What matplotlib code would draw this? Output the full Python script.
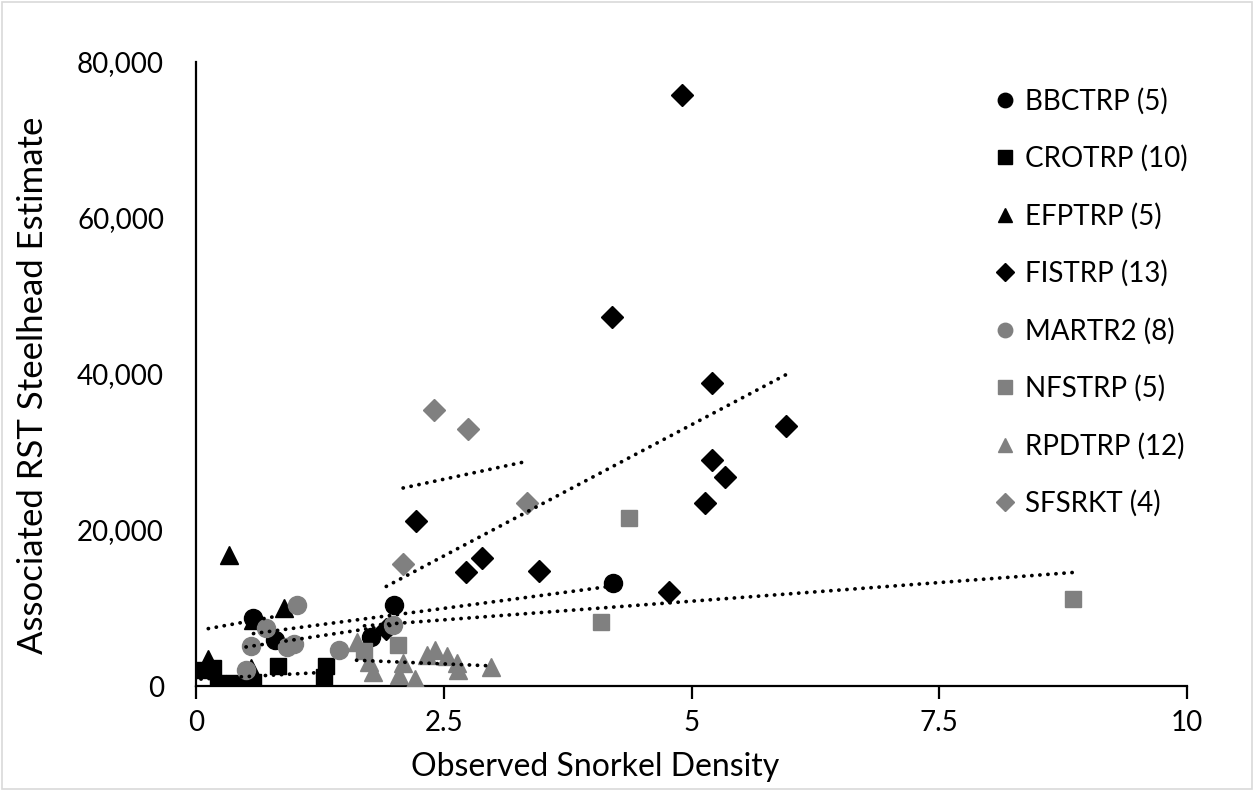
import numpy as np
import matplotlib
matplotlib.use("Agg")
import matplotlib.pyplot as plt
from matplotlib.ticker import FuncFormatter, FixedLocator
from matplotlib.patches import Rectangle

plt.rcParams['font.family'] = ['Lato', 'DejaVu Sans']

# ---- data ----
series_names = ["BBCTRP (5)", "CROTRP (10)", "EFPTRP (5)", "FISTRP (13)",
                "MARTR2 (8)", "NFSTRP (5)", "RPDTRP (12)", "SFSRKT (4)"]

bbctrp_x = [0.58, 0.80, 1.77, 2.00, 4.21]
bbctrp_y = [8700, 5900, 6300, 10400, 13200]

crotrp_x = [0.05, 0.17, 0.22, 0.30, 0.38, 0.45, 0.58, 0.83, 1.29, 1.31]
crotrp_y = [2000, 2300, 400, 300, 400, 300, 500, 2600, 1100, 2600]

efptrp_x = [0.124, 0.336, 0.555, 0.58, 0.89]
efptrp_y = [3500, 16800, 2300, 8500, 10000]

fistrp_x = [4.90, 4.20, 5.21, 5.95, 5.21, 5.34, 5.14, 2.22, 2.89, 2.72, 3.46, 4.77, 1.92]
fistrp_y = [75800, 47300, 38900, 33400, 29000, 26800, 23500, 21200, 16400, 14600, 14700, 12100, 7300]

martr2_x = [0.505, 0.555, 0.706, 0.92, 0.99, 1.02, 1.446, 1.99]
martr2_y = [2050, 5100, 7500, 5000, 5400, 10400, 4600, 7800]

nfstrp_x = [1.70, 2.04, 4.09, 4.37, 8.85]
nfstrp_y = [4500, 5300, 8200, 21500, 11100]

rpdtrp_x = [1.62, 1.75, 1.79, 2.05, 2.09, 2.21, 2.33, 2.41, 2.53, 2.63, 2.64, 2.98]
rpdtrp_y = [5700, 3100, 1800, 1400, 2900, 900, 4000, 4600, 3800, 2900, 2050, 2500]

sfsrkt_x = [2.09, 2.40, 2.74, 3.34]
sfsrkt_y = [15700, 35400, 33000, 23500]

x_ticks = [0, 2.5, 5, 7.5, 10]
x_tick_labels = ["0", "2.5", "5", "7.5", "10"]
y_ticks = [0, 20000, 40000, 60000, 80000]

# ---- styling ----
BLACK = "#000000"
GRAY = "#808080"
styles = [
    (BLACK, "o", 13), (BLACK, "s", 12), (BLACK, "^", 13), (BLACK, "D", 11.5),
    (GRAY, "o", 13), (GRAY, "s", 12), (GRAY, "^", 13), (GRAY, "D", 11.5),
]
xs = [bbctrp_x, crotrp_x, efptrp_x, fistrp_x, martr2_x, nfstrp_x, rpdtrp_x, sfsrkt_x]
ys = [bbctrp_y, crotrp_y, efptrp_y, fistrp_y, martr2_y, nfstrp_y, rpdtrp_y, sfsrkt_y]

fig = plt.figure(figsize=(12.54, 7.91), dpi=100)
ax = fig.add_axes([0.1563, 0.1327, 0.9466 - 0.1563, 0.9216 - 0.1327])

handles = []
for name, x, y, (c, m, s) in zip(series_names, xs, ys, styles):
    h, = ax.plot(x, y, linestyle="none", marker=m, markersize=s,
                 color=c, markeredgecolor=c, label=name, zorder=3)
    handles.append(h)

# linear trendlines (least squares per series)
for x, y in zip(xs, ys):
    xa = np.asarray(x, float)
    ya = np.asarray(y, float)
    k, b = np.polyfit(xa, ya, 1)
    xx = np.array([xa.min(), xa.max()])
    ax.plot(xx, k * xx + b, color=BLACK, linewidth=2.7,
            linestyle=(0, (0.05, 2.1)), dash_capstyle="round", zorder=4)

ax.set_xlim(0, 10)
ax.set_ylim(0, 80000)
ax.xaxis.set_major_locator(FixedLocator(x_ticks))
ax.set_xticklabels(x_tick_labels)
ax.yaxis.set_major_locator(FixedLocator(y_ticks))
ax.yaxis.set_major_formatter(FuncFormatter(lambda v, p: f"{int(v):,}"))

for sp in ["top", "right"]:
    ax.spines[sp].set_visible(False)
for sp in ["left", "bottom"]:
    ax.spines[sp].set_linewidth(1.6)
    ax.spines[sp].set_color(BLACK)

ax.tick_params(axis="x", direction="out", length=9, width=1.6, labelsize=20, pad=8, colors=BLACK)
ax.tick_params(axis="y", length=0, labelsize=20, pad=23, colors=BLACK)

ax.set_xlabel("Observed Snorkel Density", fontsize=23)
ax.xaxis.set_label_coords(0.4026, -0.106)
ax.set_ylabel("Associated RST Steelhead Estimate", fontsize=25)
ax.yaxis.set_label_coords(-0.148, 0.482)

leg = fig.legend(handles=handles, loc="upper left", bbox_to_anchor=(0.786, 0.903),
                 frameon=False, fontsize=20, markerscale=0.8, handlelength=0.6,
                 handletextpad=0.4, labelspacing=1.1, borderaxespad=0)

fig.patches.append(Rectangle((0.0015, 0.002), 0.997, 0.996, transform=fig.transFigure,
                             fill=False, edgecolor="#d9d9d9", linewidth=1.2))

fig.savefig("out.png", dpi=100)
